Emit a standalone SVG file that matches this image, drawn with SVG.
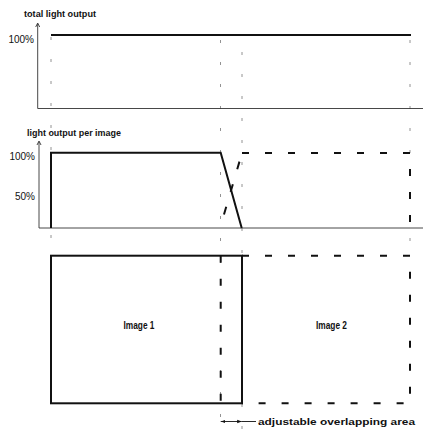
<svg xmlns="http://www.w3.org/2000/svg" width="423" height="430" viewBox="0 0 423 430">
<defs>
<style>
text{font-family:"Liberation Sans",Arial,sans-serif;fill:#111;font-weight:bold;}
.lbl{font-size:9.5px;}
.img{font-size:10px;}
.pct{font-size:10px;text-anchor:end;font-weight:normal;}
.axis{stroke:#333;stroke-width:0.9;fill:none;}
.guide{stroke:#777;stroke-width:0.8;stroke-dasharray:3 19;fill:none;}
.solid{stroke:#111;stroke-width:2;fill:none;stroke-linejoin:miter;}
.dash{stroke:#111;stroke-width:2;fill:none;stroke-dasharray:7 16;}
.thin{stroke:#111;stroke-width:0.9;fill:none;}
</style>
<marker id="ah" viewBox="0 0 8 8" refX="8" refY="4" markerWidth="5" markerHeight="5" orient="auto-start-reverse">
<path d="M0,1 L8,4 L0,7 z" fill="#111"/>
</marker>
</defs>
<rect width="423" height="430" fill="#fff"/>

<g id="guides">
<line class="guide" x1="51" y1="37" x2="51" y2="252"/>
<line class="guide" x1="220.5" y1="40" x2="220.5" y2="430"/>
<line class="guide" x1="242" y1="52" x2="242" y2="430"/>
<line class="guide" x1="410" y1="40" x2="410" y2="252"/>
</g>

<g id="panel-total">
<text class="lbl" x="24" y="17" textLength="72" lengthAdjust="spacingAndGlyphs">total light output</text>
<text class="pct" x="34" y="43">100%</text>
<line class="axis" x1="37.7" y1="24" x2="37.7" y2="108.5"/>
<polyline class="axis" points="35.7,27 37.7,23 39.7,27"/>
<line class="axis" x1="37.7" y1="108.5" x2="423" y2="108.5"/>
<line class="solid" x1="51" y1="35" x2="411" y2="35"/>
</g>

<g id="panel-per-image">
<text class="lbl" x="27" y="136" textLength="94" lengthAdjust="spacingAndGlyphs">light output per image</text>
<text class="pct" x="35" y="159.5">100%</text>
<text class="pct" x="35" y="200">50%</text>
<line class="axis" x1="39" y1="142" x2="39" y2="228"/>
<polyline class="axis" points="37,145 39,141 41,145"/>
<line class="axis" x1="39" y1="228" x2="423" y2="228"/>
<polyline class="solid" points="51,228 51,152.7 220.7,152.7 241.7,228"/>
<path class="dash" d="M242,153 L410,153 L410,228"/>
<line x1="242" y1="153" x2="220" y2="228" stroke="#111" stroke-width="2" stroke-dasharray="8 15.5" stroke-dashoffset="14.5"/>
</g>

<g id="image1">
<rect class="solid" x="51" y="255.7" width="191" height="147.6" stroke-width="1.8"/>
<text class="img" x="139" y="329" text-anchor="middle" textLength="31" lengthAdjust="spacingAndGlyphs">Image 1</text>
</g>

<g id="image2">
<path class="dash" d="M242,255.7 H410 V403.3 H242"/>
<line class="dash" x1="220.7" y1="255.7" x2="220.7" y2="403.3"/>
<text class="img" x="331.5" y="329" text-anchor="middle" textLength="31" lengthAdjust="spacingAndGlyphs">Image 2</text>
</g>

<g id="connectors">
<line class="thin" x1="220.7" y1="421.5" x2="241.7" y2="421.5" marker-start="url(#ah)" marker-end="url(#ah)"/>
<line class="thin" x1="241.7" y1="421.5" x2="256" y2="421.5"/>
</g>
<g id="overlap-label">
<text class="lbl" x="258" y="424.5" textLength="157" lengthAdjust="spacingAndGlyphs">adjustable overlapping area</text>
</g>
</svg>
